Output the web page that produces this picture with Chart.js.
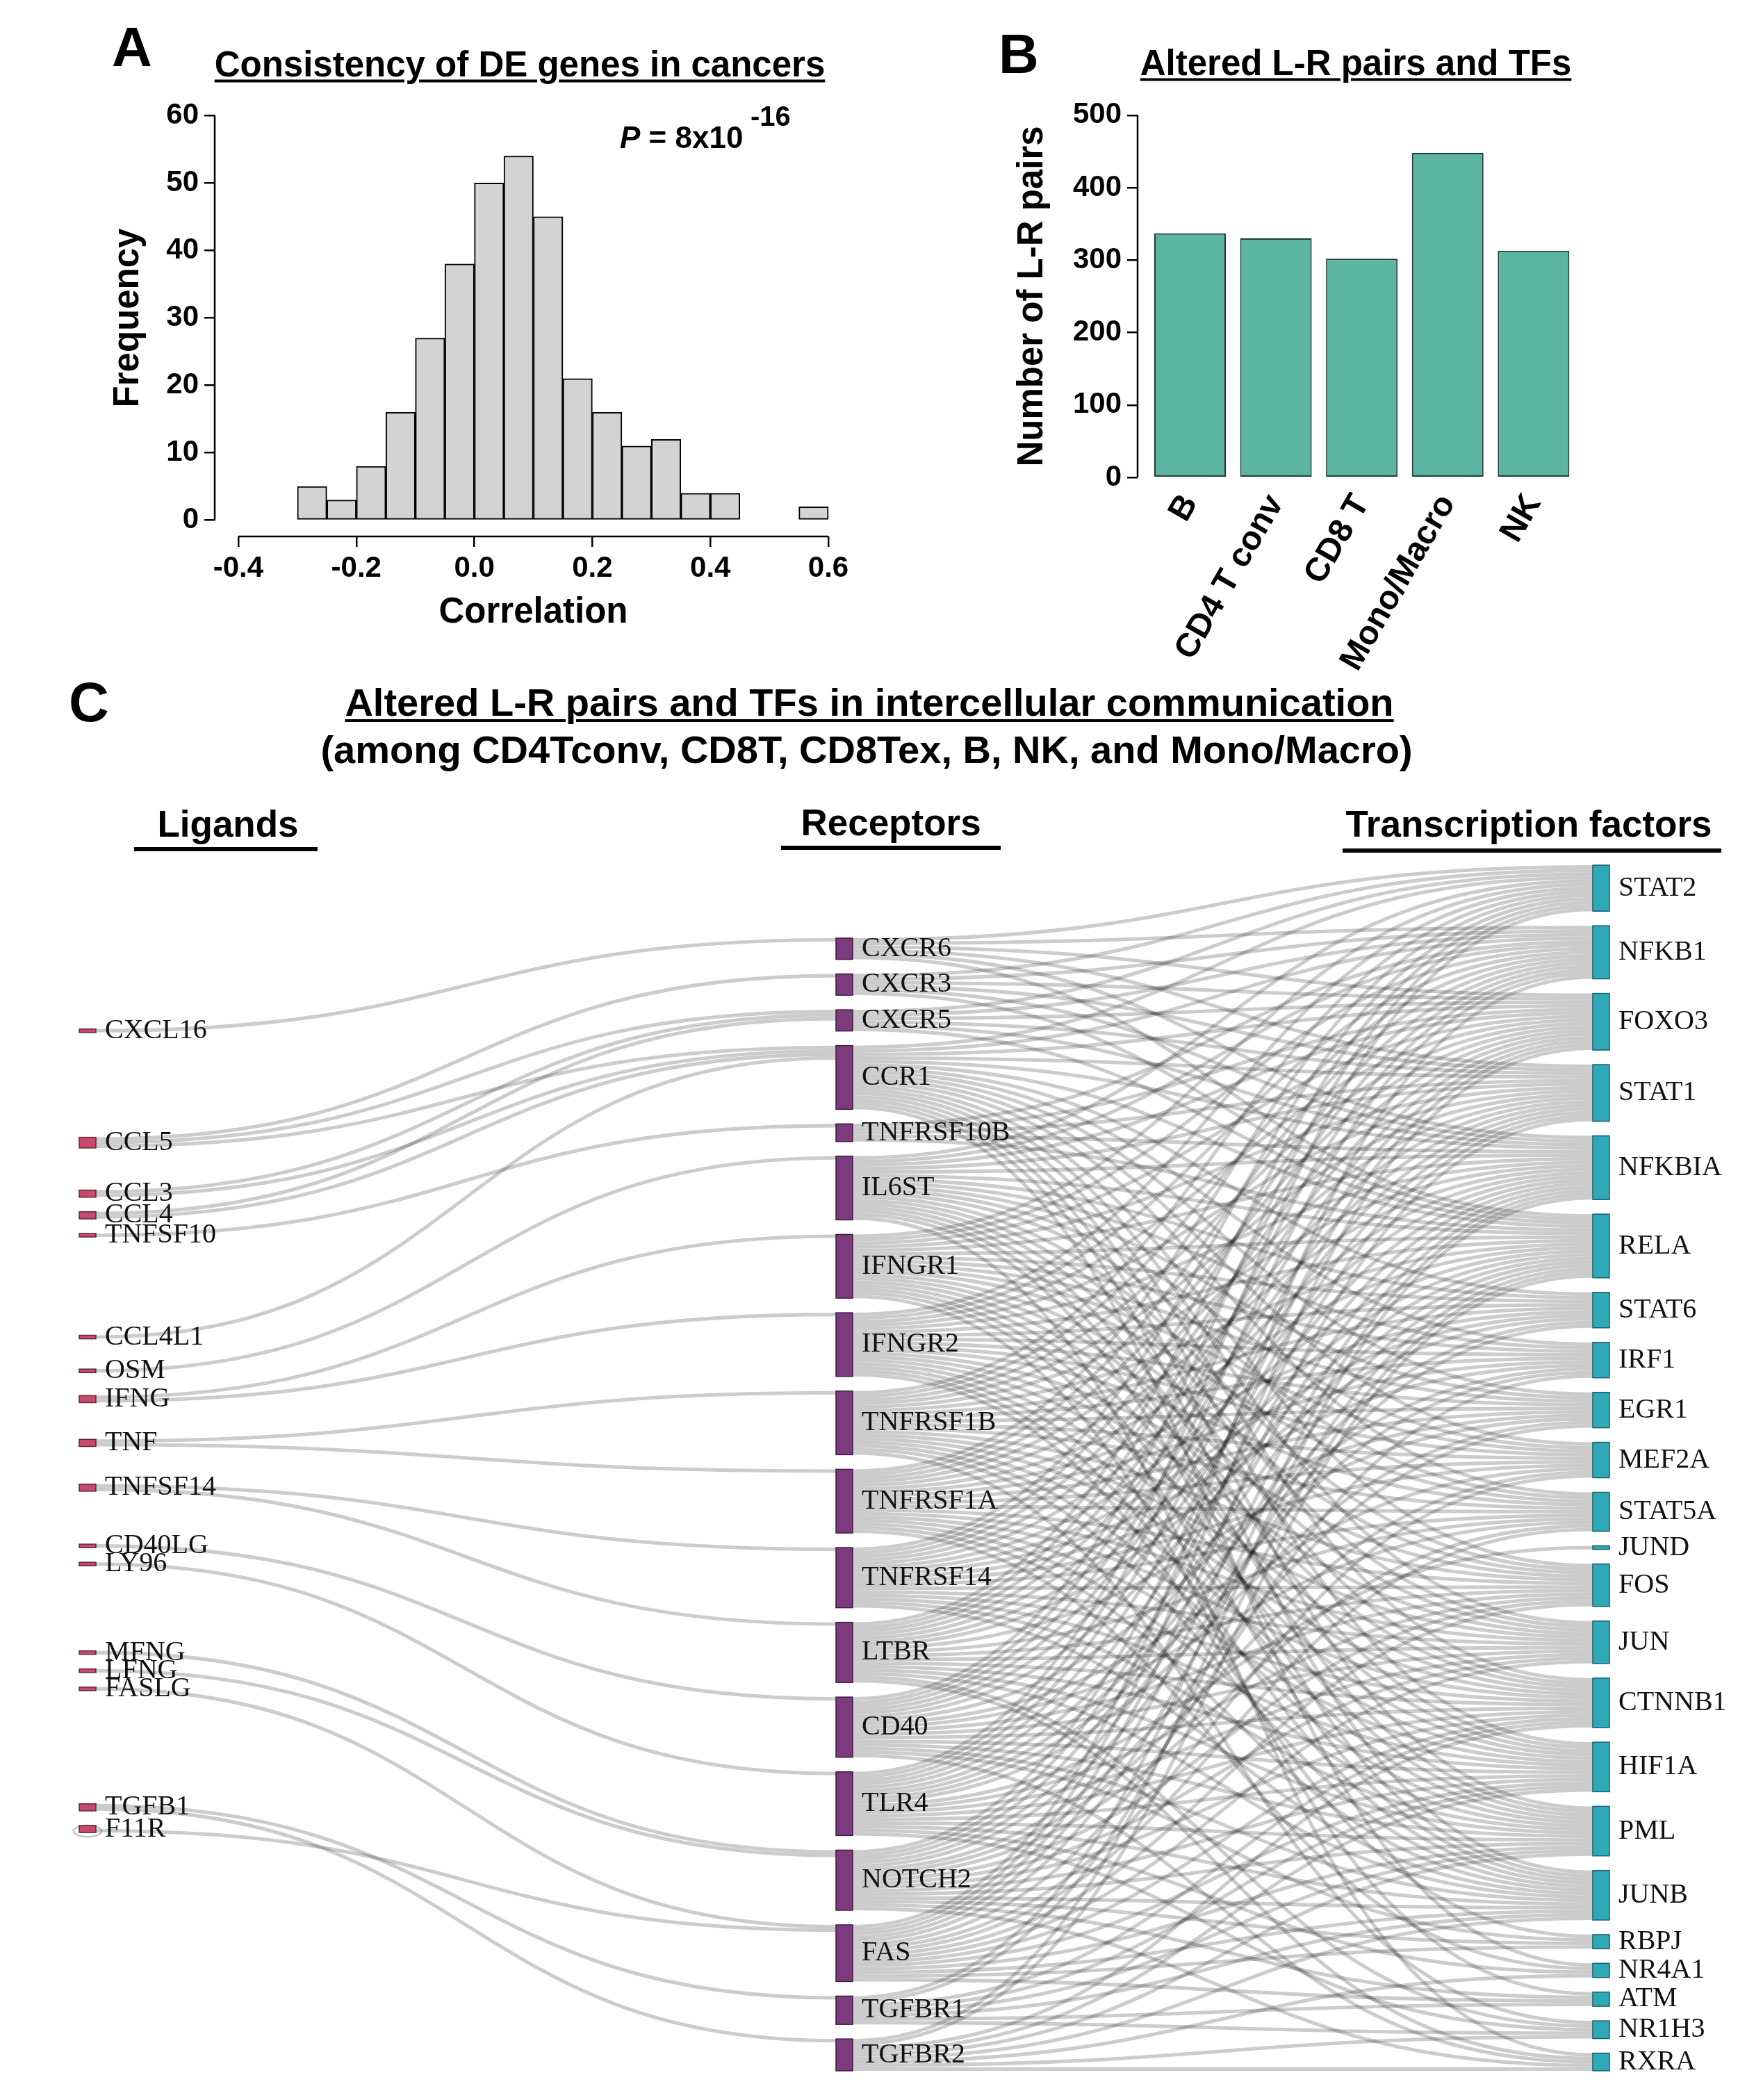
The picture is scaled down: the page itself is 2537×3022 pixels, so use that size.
<!DOCTYPE html>
<html>
<head>
<meta charset="utf-8">
<script src="https://cdn.jsdelivr.net/npm/chart.js@4.4.1/dist/chart.umd.min.js"></script>
<style>
html, body { margin: 0; padding: 0; background: #fff; }
#page { position: relative; width: 2537px; height: 3022px; overflow: hidden;
        font-family: "Liberation Sans", Arial, sans-serif; color: #000; }
canvas { position: absolute; }
.t { position: absolute; white-space: nowrap; font-weight: bold; line-height: 1;
     transform: translate(-50%, -50%); }
.u { text-decoration: underline; text-decoration-thickness: 4px; text-underline-offset: 5px; }
.rule { position: absolute; background: #000; height: 6px; }
</style>
</head>
<body>
<div id="page">
  <canvas id="histA" width="1260" height="940" style="left:0;top:0"></canvas>
  <canvas id="barB" width="1277" height="1000" style="left:1260px;top:0"></canvas>
  <canvas id="sankeyC" width="2537" height="1792" style="left:0;top:1230px"></canvas>

  <div class="t" style="left:190px;top:68px;font-size:80px">A</div>
  <div class="t u" style="left:748px;top:92px;font-size:51px">Consistency of DE genes in cancers</div>
  <div class="t" style="left:892px;top:198px;font-size:44px;transform:translate(0,-50%)"><i>P</i> = 8x10</div>
  <div class="t" style="left:1080px;top:167px;font-size:40px;transform:translate(0,-50%)">-16</div>

  <div class="t" style="left:1466px;top:78px;font-size:80px">B</div>
  <div class="t u" style="left:1951px;top:90px;font-size:51px">Altered L-R pairs and TFs</div>

  <div class="t" style="left:128px;top:1011px;font-size:80px">C</div>
  <div class="t u" style="left:1251px;top:1011px;font-size:56px">Altered L-R pairs and TFs in intercellular communication</div>
  <div class="t" style="left:1247px;top:1079px;font-size:56px">(among CD4Tconv, CD8T, CD8Tex, B, NK, and Mono/Macro)</div>

  <div class="t" style="left:328px;top:1185px;font-size:53px">Ligands</div>
  <div class="t" style="left:1282px;top:1183px;font-size:53px">Receptors</div>
  <div class="t" style="left:2200px;top:1185px;font-size:53px">Transcription factors</div>
  <div class="rule" style="left:193px;top:1219px;width:264px"></div>
  <div class="rule" style="left:1124px;top:1217px;width:316px"></div>
  <div class="rule" style="left:1932px;top:1221px;width:545px"></div>
</div>

<script>
Chart.defaults.font.family = '"Liberation Sans", Arial, sans-serif';
Chart.defaults.color = '#000';

// ---- panel A: histogram of correlations
const corrEdges = [-0.30, -0.25, -0.20, -0.15, -0.10, -0.05, 0.00, 0.05, 0.10, 0.15,
                   0.20, 0.25, 0.30, 0.35, 0.40, 0.45, 0.50, 0.55, 0.60];
const corrCounts = [5, 3, 8, 16, 27, 38, 50, 54, 45, 21, 16, 11, 12, 4, 4, 0, 0, 2];
const corrTicks = [-0.4, -0.2, 0.0, 0.2, 0.4, 0.6];
const freqTicks = [0, 10, 20, 30, 40, 50, 60];

// ---- panel B: altered L-R pairs per cell type
const cellTypes = ['B', 'CD4 T conv', 'CD8 T', 'Mono/Macro', 'NK'];
const lrPairs = [337, 330, 302, 448, 313];
const lrTicks = [0, 100, 200, 300, 400, 500];

// ---- panel C: ligand -> receptor -> TF network
const ligands = ['CXCL16', 'CCL5', 'CCL3', 'CCL4', 'TNFSF10', 'CCL4L1', 'OSM', 'IFNG', 'TNF',
                 'TNFSF14', 'CD40LG', 'LY96', 'MFNG', 'LFNG', 'FASLG', 'TGFB1', 'F11R'];
const ligandTargets = [
  ['CXCR6'], ['CXCR3', 'CXCR5', 'CCR1'], ['CXCR5', 'CCR1'], ['CXCR5', 'CCR1'], ['TNFRSF10B'],
  ['CCR1'], ['IL6ST'], ['IFNGR1', 'IFNGR2'], ['TNFRSF1B', 'TNFRSF1A'], ['TNFRSF14', 'LTBR'],
  ['CD40'], ['TLR4'], ['NOTCH2'], ['NOTCH2'], ['FAS'], ['TGFBR1', 'TGFBR2'], ['FAS', 'F11R']
];
const receptors = ['CXCR6', 'CXCR3', 'CXCR5', 'CCR1', 'TNFRSF10B', 'IL6ST', 'IFNGR1', 'IFNGR2',
                   'TNFRSF1B', 'TNFRSF1A', 'TNFRSF14', 'LTBR', 'CD40', 'TLR4', 'NOTCH2', 'FAS',
                   'TGFBR1', 'TGFBR2'];
const tfs = ['STAT2', 'NFKB1', 'FOXO3', 'STAT1', 'NFKBIA', 'RELA', 'STAT6', 'IRF1', 'EGR1',
             'MEF2A', 'STAT5A', 'JUND', 'FOS', 'JUN', 'CTNNB1', 'HIF1A', 'PML', 'JUNB', 'RBPJ',
             'NR4A1', 'ATM', 'NR1H3', 'RXRA'];
const receptorTargets = [
  ['STAT2', 'NFKB1', 'FOXO3', 'STAT1', 'NFKBIA', 'RELA'],
  ['STAT2', 'NFKB1', 'FOXO3', 'STAT1', 'NFKBIA', 'RELA'],
  ['STAT2', 'NFKB1', 'FOXO3', 'STAT1', 'NFKBIA', 'RELA'],
  ['STAT2', 'NFKB1', 'FOXO3', 'STAT1', 'NFKBIA', 'RELA', 'STAT6', 'IRF1', 'EGR1', 'MEF2A', 'STAT5A', 'FOS', 'JUN', 'CTNNB1', 'HIF1A', 'PML', 'JUNB', 'NR4A1'],
  ['NFKB1', 'FOXO3', 'STAT1', 'NFKBIA', 'RELA'],
  ['STAT2', 'NFKB1', 'FOXO3', 'STAT1', 'NFKBIA', 'RELA', 'STAT6', 'IRF1', 'EGR1', 'MEF2A', 'STAT5A', 'FOS', 'JUN', 'CTNNB1', 'HIF1A', 'PML', 'JUNB', 'RXRA'],
  ['STAT2', 'NFKB1', 'FOXO3', 'STAT1', 'NFKBIA', 'RELA', 'STAT6', 'IRF1', 'EGR1', 'MEF2A', 'STAT5A', 'FOS', 'JUN', 'CTNNB1', 'HIF1A', 'PML', 'JUNB', 'ATM'],
  ['STAT2', 'NFKB1', 'FOXO3', 'STAT1', 'NFKBIA', 'RELA', 'STAT6', 'IRF1', 'EGR1', 'MEF2A', 'STAT5A', 'FOS', 'JUN', 'CTNNB1', 'HIF1A', 'PML', 'JUNB', 'RBPJ'],
  ['STAT2', 'NFKB1', 'FOXO3', 'STAT1', 'NFKBIA', 'RELA', 'STAT6', 'IRF1', 'EGR1', 'MEF2A', 'STAT5A', 'FOS', 'JUN', 'CTNNB1', 'HIF1A', 'PML', 'JUNB', 'NR1H3'],
  ['STAT2', 'NFKB1', 'FOXO3', 'STAT1', 'NFKBIA', 'RELA', 'STAT6', 'IRF1', 'EGR1', 'MEF2A', 'STAT5A', 'FOS', 'JUN', 'CTNNB1', 'HIF1A', 'PML', 'JUNB', 'NR4A1'],
  ['STAT2', 'NFKB1', 'FOXO3', 'STAT1', 'NFKBIA', 'RELA', 'STAT6', 'IRF1', 'EGR1', 'MEF2A', 'STAT5A', 'FOS', 'JUN', 'CTNNB1', 'HIF1A', 'PML', 'JUNB'],
  ['STAT2', 'NFKB1', 'FOXO3', 'STAT1', 'NFKBIA', 'RELA', 'STAT6', 'EGR1', 'STAT5A', 'FOS', 'JUN', 'CTNNB1', 'HIF1A', 'PML', 'JUNB', 'NR1H3', 'RXRA'],
  ['STAT2', 'NFKB1', 'FOXO3', 'STAT1', 'NFKBIA', 'RELA', 'IRF1', 'MEF2A', 'STAT5A', 'FOS', 'JUN', 'CTNNB1', 'HIF1A', 'PML', 'JUNB', 'RBPJ', 'RXRA'],
  ['STAT2', 'NFKB1', 'FOXO3', 'STAT1', 'NFKBIA', 'RELA', 'STAT6', 'IRF1', 'EGR1', 'JUND', 'FOS', 'JUN', 'CTNNB1', 'HIF1A', 'PML', 'JUNB', 'NR4A1', 'NR1H3'],
  ['FOXO3', 'STAT1', 'NFKBIA', 'RELA', 'STAT6', 'EGR1', 'MEF2A', 'STAT5A', 'FOS', 'JUN', 'CTNNB1', 'HIF1A', 'PML', 'JUNB', 'RBPJ', 'ATM', 'RXRA'],
  ['NFKB1', 'FOXO3', 'STAT1', 'NFKBIA', 'RELA', 'IRF1', 'MEF2A', 'STAT5A', 'FOS', 'JUN', 'CTNNB1', 'HIF1A', 'PML', 'JUNB', 'RBPJ', 'ATM'],
  ['NFKBIA', 'RELA', 'CTNNB1', 'HIF1A', 'PML', 'JUNB', 'ATM', 'NR1H3'],
  ['NFKBIA', 'RELA', 'CTNNB1', 'HIF1A', 'PML', 'JUNB', 'NR4A1', 'NR1H3', 'RXRA']
];

// R draws its axes as lines that stop at the first and last tick
function rAxisLines(xRange, yRange) {
  return {
    id: 'rAxes',
    afterDraw(chart) {
      const { ctx, chartArea: a, scales: { x, y } } = chart;
      ctx.save();
      ctx.strokeStyle = '#000';
      ctx.lineWidth = 2.5;
      ctx.beginPath();
      if (xRange) {
        ctx.moveTo(x.getPixelForValue(xRange[0]), a.bottom);
        ctx.lineTo(x.getPixelForValue(xRange[1]), a.bottom);
      }
      ctx.moveTo(a.left, y.getPixelForValue(yRange[0]));
      ctx.lineTo(a.left, y.getPixelForValue(yRange[1]));
      ctx.stroke();
      ctx.restore();
    }
  };
}

const tickGrid = { display: true, offset: false, drawOnChartArea: false, drawTicks: true, tickLength: 15, color: '#000', lineWidth: 2.5 };
const boldTicks = { size: 42, weight: 'bold' };
const boldTitle = { size: 51, weight: 'bold' };

new Chart(document.getElementById('histA'), {
  type: 'bar',
  data: {
    datasets: [{
      data: corrCounts.map((c, i) => ({ x: (corrEdges[i] + corrEdges[i + 1]) / 2, y: c > 0 ? c : null })),
      backgroundColor: '#d3d3d3',
      borderColor: '#000',
      borderWidth: 2,
      borderSkipped: false,
      barPercentage: 1,
      categoryPercentage: 1
    }]
  },
  options: {
    responsive: false, animation: false, devicePixelRatio: 1,
    layout: { padding: { left: 154, right: 34, top: 143, bottom: 27 } },
    plugins: { legend: { display: false }, tooltip: { enabled: false } },
    scales: {
      x: {
        type: 'linear', min: -0.44, max: 0.64, offset: false,
        afterBuildTicks: s => { s.ticks = corrTicks.map(v => ({ value: v })); },
        afterFit: s => { s.height = 141; },
        grid: tickGrid, border: { display: false },
        ticks: { font: boldTicks, padding: 6, maxRotation: 0, autoSkip: false, callback: v => v.toFixed(1) },
        title: { display: true, text: 'Correlation', font: boldTitle, padding: 0 }
      },
      y: {
        min: -2.4, max: 62.4,
        afterBuildTicks: s => { s.ticks = freqTicks.map(v => ({ value: v })); },
        afterFit: s => { s.width = 155; },
        grid: tickGrid, border: { display: false },
        ticks: { font: boldTicks, padding: 8 },
        title: { display: true, text: 'Frequency', font: boldTitle, padding: 0 }
      }
    }
  },
  plugins: [rAxisLines([-0.4, 0.6], [0, 60])]
});

new Chart(document.getElementById('barB'), {
  type: 'bar',
  data: {
    datasets: [{
      data: lrPairs.map((v, i) => ({ x: i, y: v })),
      backgroundColor: '#5cb5a2',
      borderColor: '#1e3d36',
      borderWidth: 2,
      borderSkipped: false,
      barPercentage: 0.8333,
      categoryPercentage: 1
    }]
  },
  options: {
    responsive: false, animation: false, devicePixelRatio: 1,
    layout: { padding: { left: 195, right: 255, top: 145, bottom: 0 } },
    plugins: { legend: { display: false }, tooltip: { enabled: false } },
    scales: {
      x: {
        type: 'linear', min: -0.611, max: 4.608, offset: false,
        afterBuildTicks: s => { s.ticks = cellTypes.map((c, i) => ({ value: i })); },
        afterFit: s => { s.height = 292; },
        grid: { display: false, offset: false }, border: { display: false },
        ticks: { autoSkip: false, minRotation: 60, maxRotation: 60, padding: -14,
                 font: { size: 48, weight: 'bold' }, callback: v => cellTypes[v] }
      },
      y: {
        min: -20, max: 520,
        afterBuildTicks: s => { s.ticks = lrTicks.map(v => ({ value: v })); },
        afterFit: s => { s.width = 182; },
        grid: tickGrid, border: { display: false },
        ticks: { font: boldTicks, padding: 8 },
        title: { display: true, text: 'Number of L-R pairs', font: boldTitle, padding: 0 }
      }
    }
  },
  plugins: [rAxisLines(null, [0, 500])]
});

// ---- sankey layout (networkD3 style relaxation, node order kept as listed)
const SANKEY_H = 1735;
const NODE_PAD = 21;
const NODE_W = 24;
const colours = [
  { fill: '#c8496d', line: '#5e2a3a' },
  { fill: '#7c3b7e', line: '#3e1e40' },
  { fill: '#2fa9b8', line: '#1d5f67' }
];

function buildSankey() {
  const nodes = [];
  const byName = {};
  [ligands, receptors, tfs].forEach((names, col) => names.forEach(name => {
    const n = { name, col, sourceLinks: [], targetLinks: [] };
    nodes.push(n);
    byName[name] = n;
  }));
  const links = [];
  const addLinks = (sources, targets) => sources.forEach((s, i) => targets[i].forEach(t => {
    const l = { source: byName[s], target: byName[t], value: 1 };
    l.source.sourceLinks.push(l);
    l.target.targetLinks.push(l);
    links.push(l);
  }));
  addLinks(ligands, ligandTargets);
  addLinks(receptors, receptorTargets);

  const sum = (arr, f) => arr.reduce((a, d) => a + f(d), 0);
  nodes.forEach(n => {
    n.value = Math.max(sum(n.sourceLinks, l => l.value), sum(n.targetLinks, l => l.value));
  });
  const cols = [0, 1, 2].map(c => nodes.filter(n => n.col === c));
  const ky = Math.min(...cols.map(c => (SANKEY_H - (c.length - 1) * NODE_PAD) / sum(c, n => n.value)));
  cols.forEach(c => c.forEach((n, i) => { n.y = i; n.dy = n.value * ky; }));
  links.forEach(l => { l.dy = l.value * ky; });
  const center = n => n.y + n.dy / 2;

  function resolveCollisions() {
    cols.forEach(c => {
      let y0 = 0;
      c.forEach(n => {
        const dy = y0 - n.y;
        if (dy > 0) n.y += dy;
        y0 = n.y + n.dy + NODE_PAD;
      });
      let dy = y0 - NODE_PAD - SANKEY_H;
      if (dy > 0) {
        const last = c[c.length - 1];
        y0 = last.y -= dy;
        for (let i = c.length - 2; i >= 0; --i) {
          const n = c[i];
          dy = n.y + n.dy + NODE_PAD - y0;
          if (dy > 0) n.y -= dy;
          y0 = n.y;
        }
      }
    });
  }
  function relaxLeftToRight(alpha) {
    cols.forEach(c => c.forEach(n => {
      if (n.targetLinks.length) {
        const y = sum(n.targetLinks, l => center(l.source) * l.value) / sum(n.targetLinks, l => l.value);
        n.y += (y - center(n)) * alpha;
      }
    }));
  }
  function relaxRightToLeft(alpha) {
    cols.slice().reverse().forEach(c => c.forEach(n => {
      if (n.sourceLinks.length) {
        const y = sum(n.sourceLinks, l => center(l.target) * l.value) / sum(n.sourceLinks, l => l.value);
        n.y += (y - center(n)) * alpha;
      }
    }));
  }

  resolveCollisions();
  let alpha = 1;
  for (let it = 32; it > 0; --it) {
    alpha *= 0.99;
    relaxRightToLeft(alpha);
    resolveCollisions();
    relaxLeftToRight(alpha);
    resolveCollisions();
  }
  nodes.forEach(n => {
    n.sourceLinks.sort((a, b) => a.target.y - b.target.y);
    n.targetLinks.sort((a, b) => a.source.y - b.source.y);
  });
  nodes.forEach(n => {
    let sy = 0, ty = 0;
    n.sourceLinks.forEach(l => { l.sy = sy; sy += l.dy; });
    n.targetLinks.forEach(l => { l.ty = ty; ty += l.dy; });
  });
  return { nodes, links };
}

const sankey = buildSankey();

const sankeyDraw = {
  id: 'sankeyDraw',
  afterDraw(chart) {
    const { ctx, scales: { x, y } } = chart;
    ctx.save();
    ctx.strokeStyle = 'rgba(0,0,0,0.2)';
    sankey.links.forEach(l => {
      const lw = Math.max(1, Math.abs(y.getPixelForValue(l.dy) - y.getPixelForValue(0)));
      if (l.source === l.target) {
        // self link: small loop round the node
        const cx = x.getPixelForValue(l.source.col) + NODE_W / 2;
        const cy = y.getPixelForValue(l.source.y + l.source.dy / 2);
        ctx.lineWidth = lw * 0.6;
        ctx.beginPath();
        ctx.ellipse(cx, cy + lw * 0.6, NODE_W / 2 + 8, lw * 1.6, 0, 0, Math.PI * 2);
        ctx.stroke();
        return;
      }
      const x0 = x.getPixelForValue(l.source.col) + NODE_W;
      const x1 = x.getPixelForValue(l.target.col);
      const y0 = y.getPixelForValue(l.source.y + l.sy + l.dy / 2);
      const y1 = y.getPixelForValue(l.target.y + l.ty + l.dy / 2);
      const xm = (x0 + x1) / 2;
      ctx.lineWidth = lw;
      ctx.beginPath();
      ctx.moveTo(x0, y0);
      ctx.bezierCurveTo(xm, y0, xm, y1, x1, y1);
      ctx.stroke();
    });
    sankey.nodes.forEach(n => {
      const px = x.getPixelForValue(n.col);
      const top = y.getPixelForValue(n.y);
      const bot = y.getPixelForValue(n.y + n.dy);
      ctx.fillStyle = colours[n.col].fill;
      ctx.strokeStyle = colours[n.col].line;
      ctx.lineWidth = 1.5;
      ctx.fillRect(px, top, NODE_W, bot - top);
      ctx.strokeRect(px, top, NODE_W, bot - top);
    });
    ctx.font = '40px "Liberation Serif", "Times New Roman", serif';
    ctx.fillStyle = '#111';
    ctx.textBaseline = 'middle';
    ctx.textAlign = 'left';
    sankey.nodes.forEach(n => {
      const px = x.getPixelForValue(n.col);
      const mid = y.getPixelForValue(n.y + n.dy / 2);
      ctx.fillText(n.name, px + NODE_W + 13, mid);
    });
    ctx.restore();
  }
};

new Chart(document.getElementById('sankeyC'), {
  type: 'scatter',
  data: { datasets: [] },
  options: {
    responsive: false, animation: false, devicePixelRatio: 1,
    layout: { padding: { left: 114, right: 245, top: 15, bottom: 42 } },
    plugins: { legend: { display: false }, tooltip: { enabled: false } },
    scales: {
      x: { type: 'linear', min: 0, max: 2, display: false },
      y: { type: 'linear', min: 0, max: SANKEY_H, reverse: true, display: false }
    }
  },
  plugins: [sankeyDraw]
});
</script>
</body>
</html>
